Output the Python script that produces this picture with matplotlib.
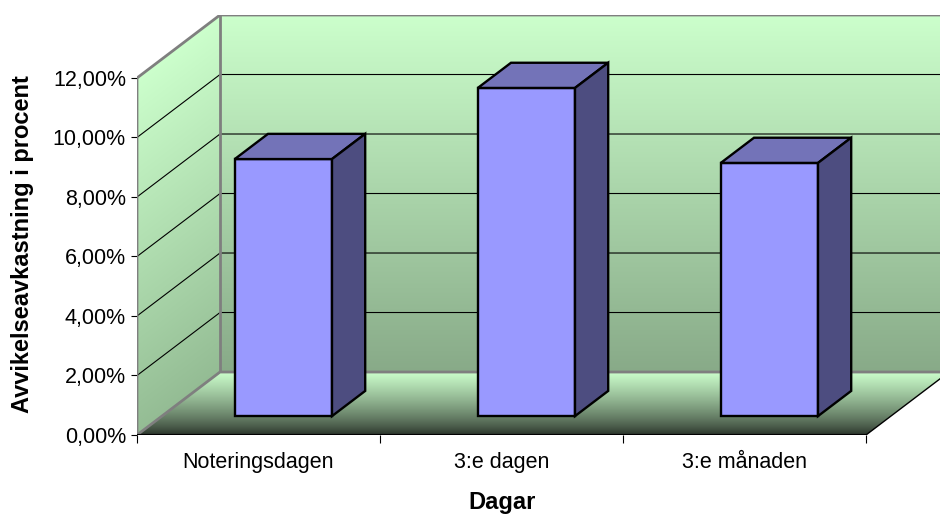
import numpy as np
import matplotlib
matplotlib.use('Agg')
import matplotlib.pyplot as plt
from matplotlib.patches import Polygon

# chart data
categories = ['Noteringsdagen', '3:e dagen', '3:e månaden']
values = [8.64, 11.03, 8.51]          # avvikelseavkastning i %
y_ticks = [0, 2, 4, 6, 8, 10, 12]
y_tick_labels = ['0,00%', '2,00%', '4,00%', '6,00%', '8,00%', '10,00%', '12,00%']
x_label = 'Dagar'
y_label = 'Avvikelseavkastning i procent'

# oblique projection of the depth axis, in data units
DX = 83 / 243.0
DY = 63 / 29.76
YMAX = y_ticks[-1]
N = len(categories)


def proj(x, v, z):
    return (x + z * DX, v + z * DY)


def line3d(pts, **kw):
    xy = [proj(*p) for p in pts]
    ax.plot([p[0] for p in xy], [p[1] for p in xy], solid_capstyle='butt', **kw)


def ramp(t, c0, c1):
    t = np.clip(t, 0, 1)[..., None]
    c0 = np.asarray(c0) / 255.0
    c1 = np.asarray(c1) / 255.0
    return c0 + (c1 - c0) * t


plt.rcParams['font.family'] = ['Liberation Sans', 'DejaVu Sans']

fig = plt.figure(figsize=(9.4, 5.14), dpi=100)
ax = fig.add_axes([137 / 940, 79 / 514, 812 / 940, 420 / 514])
for s in ax.spines.values():
    s.set_visible(False)
ax.patch.set_visible(False)

# gradient filled walls and floor
ext = (0, N + DX, 0, YMAX + DY)
gx, gy = np.meshgrid(np.linspace(ext[0], ext[1], 700), np.linspace(ext[2], ext[3], 700))
wall_lo, wall_hi = (136, 170, 136), (204, 255, 204)
floor_lo, floor_hi = (38, 46, 38), (204, 255, 204)

zl = gx / DX
left_rgb = ramp((gy - zl * DY) / YMAX, (148, 188, 148), wall_hi)
back_rgb = ramp((gy - DY) / YMAX, wall_lo, wall_hi)
floor_rgb = ramp((gy / DY) ** 0.75, floor_lo, floor_hi)

surfaces = [
    ([proj(0, 0, 1), proj(0, YMAX, 1), proj(N, YMAX, 1), proj(N, 0, 1)], back_rgb),
    ([proj(0, 0, 0), proj(0, YMAX, 0), proj(0, YMAX, 1), proj(0, 0, 1)], left_rgb),
    ([proj(0, 0, 0), proj(N, 0, 0), proj(N, 0, 1), proj(0, 0, 1)], floor_rgb),
]
for pts, rgb in surfaces:
    patch = Polygon(pts, closed=True, facecolor='none', edgecolor='none')
    ax.add_patch(patch)
    im = ax.imshow(rgb, origin='lower', extent=ext, aspect='auto', interpolation='bilinear', zorder=1)
    im.set_clip_path(patch)

# gridlines on left and back wall
for v in y_ticks[1:-1]:
    line3d([(0, v, 0), (0, v, 1), (N, v, 1)], color='black', lw=0.8, zorder=2)

# wall / floor edges
gray = '#7f7f7f'
line3d([(0, 0, 0), (0, YMAX, 0), (0, YMAX, 1), (N, YMAX, 1)], color=gray, lw=2, zorder=3)
line3d([(0, 0, 0), (0, 0, 1), (N, 0, 1)], color=gray, lw=2, zorder=3)
line3d([(0, 0, 1), (0, YMAX, 1)], color=gray, lw=2, zorder=3)
line3d([(0, 0, 0), (N, 0, 0)], color='black', lw=1.5, zorder=3)
line3d([(N, 0, 0), (N, 0, 1)], color='black', lw=1.0, zorder=3)

# 3d bars
bar_w = 0.4
z0, z1 = 0.3, 0.7
for i, h in enumerate(values):
    x0, x1 = i + 0.5 - bar_w / 2, i + 0.5 + bar_w / 2
    faces = [
        ([(x0, 0, z0), (x1, 0, z0), (x1, h, z0), (x0, h, z0)], '#9999ff'),
        ([(x0, h, z0), (x1, h, z0), (x1, h, z1), (x0, h, z1)], '#7373b8'),
        ([(x1, 0, z0), (x1, 0, z1), (x1, h, z1), (x1, h, z0)], '#4d4d80'),
    ]
    for pts, col in faces:
        ax.add_patch(Polygon([proj(*p) for p in pts], closed=True, facecolor=col,
                             edgecolor='black', lw=1.7, joinstyle='miter', zorder=4))

ax.set_xlim(ext[0], ext[1])
ax.set_ylim(ext[2], ext[3])

# axes ticks and labels
ax.set_yticks(y_ticks)
ax.set_yticklabels(y_tick_labels)
ax.tick_params(axis='y', length=4.5, width=0.8, pad=3.5, labelsize=15.5, color='black')
ax.set_xticks(range(N + 1))
ax.set_xticklabels([])
ax.set_xticks([i + 0.5 for i in range(N)], minor=True)
ax.set_xticklabels(categories, minor=True)
ax.tick_params(axis='x', which='major', length=6, width=0.8, color='black')
ax.tick_params(axis='x', which='minor', length=0, pad=12.5, labelsize=15.5)

ax.set_xlabel(x_label, fontsize=17, fontweight='bold')
ax.xaxis.label.set_va('center')
ax.xaxis.set_label_coords((502 - 137) / 812, (435 - 502) / 420)
ax.set_ylabel(y_label, fontsize=17, fontweight='bold')
ax.yaxis.label.set_va('center')
ax.yaxis.set_label_coords((23 - 137) / 812, (435 - 244) / 420)

fig.savefig('out.png', dpi=100)
